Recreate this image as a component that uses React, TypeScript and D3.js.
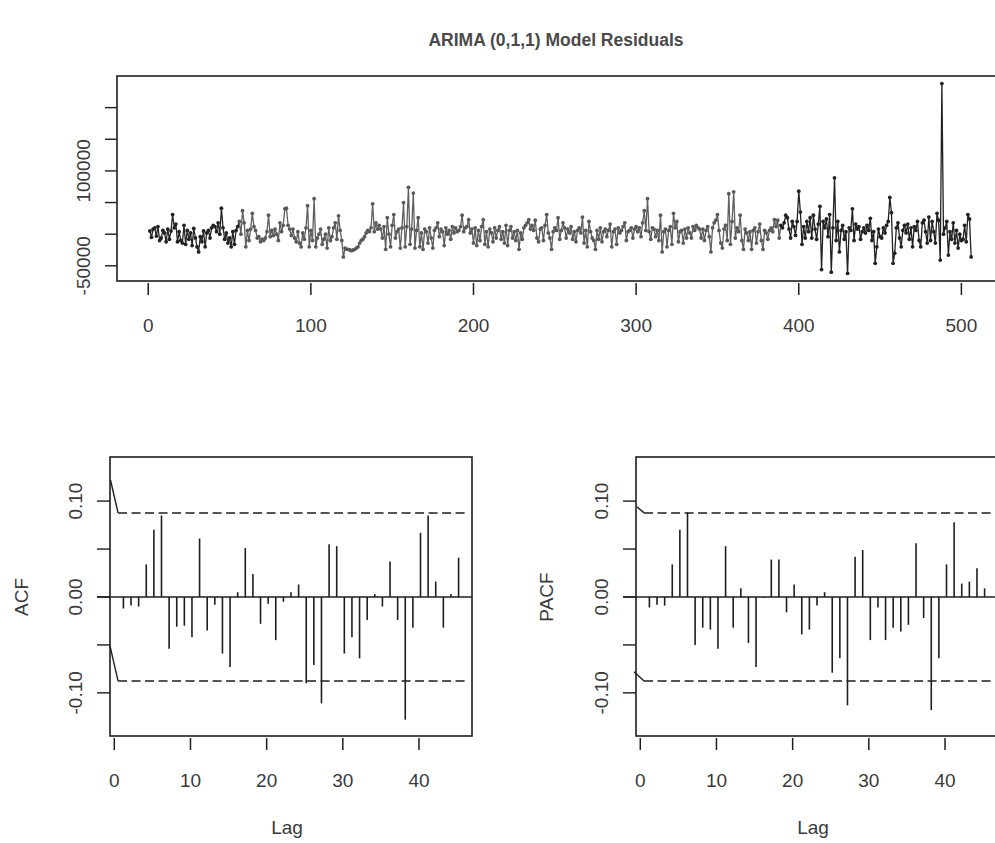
import React from "react";
import * as d3 from "d3";

// Residual series (thousands), time index 1..506
const residualsK: number[] = [
  5, -5, 8, 10, -3, 12, -10, -6, 6, 2, -12, 8, -8, 5, 31, 10, 16, -12, 4, -10,
  -14, 14, -16, 6, -8, 2, -18, 9, -6, -20, -28, -4, -12, 5, -20, 2, 6, -6, 10, 14,
  12, 4, 18, 0, 41, 10, -8, 2, -14, -6, -20, 4, -16, 6, 12, 20, 0, 37, 18, -20,
  6, -10, 8, 33, 12, 6, -6, -4, -12, -8, -10, -6, 4, 30, -4, 6, -2, 8, 0, -10,
  18, 4, 14, 40, 41, 14, 8, -2, 8, -6, -12, 4, -14, -20, 2, -8, 10, 45, -20, 6,
  -10, 56, -20, -6, 0, 8, -16, -8, 0, -22, 10, -10, -4, 10, 18, -8, 29, 6, -10, -36,
  -22, -24, -24, -25, -26, -25, -24, -22, -20, -14, -10, -8, -4, 2, 6, 4, 10, 48, 4, 18,
  8, 14, 8, -6, 12, -24, 26, 0, -20, 14, 31, -6, 4, 8, -22, 10, 50, -20, 12, 74,
  -16, 8, 65, -22, 6, 26, -20, 2, -24, 8, 4, -14, 10, -6, -22, 6, 10, 18, -4, 8,
  4, -18, 10, 0, 6, -8, 12, 2, 10, 4, 6, 12, 30, 4, 10, 12, 23, 2, 8, -14,
  10, -18, 6, -10, 12, 23, -16, 4, -20, 8, 2, -12, 10, -6, 6, 12, -8, 4, -14, 14,
  -18, 6, 12, -6, 4, -10, 6, -24, 2, -8, 10, 14, 18, 23, 8, 14, 6, 22, -6, -12,
  8, 10, -10, 14, 31, 2, -6, -24, 4, 10, 6, 26, -8, 6, 18, 10, -6, 8, 2, 12,
  -8, 4, -12, 6, 10, 2, 27, -14, 6, -20, 20, 4, -6, -10, -24, 6, -8, 10, -12, 4,
  8, -4, 6, 16, -20, 4, 8, -16, 10, 2, 6, 12, 18, -10, 4, 6, 10, -6, 8, 12,
  4, 10, -4, 18, 37, 6, 56, 4, -8, 10, 8, -4, 6, -10, 30, -28, 4, 8, -20, 6,
  12, -16, 33, 10, 20, -12, 4, 6, -14, 8, -6, 10, 2, -6, 12, 6, 14, 10, 8, -6,
  8, -10, 6, 12, -4, -28, 10, 18, 22, 31, 6, -14, -22, 8, 14, -10, 64, -16, 20, 67,
  -6, 10, 4, 30, -10, -24, 8, 2, -10, 4, -24, 6, 10, -14, 4, 16, -10, -24, 6, 2,
  -8, 6, 10, 4, 23, 12, 22, -6, 14, 10, 18, 30, 26, 8, -6, 20, 12, -2, 20, 68,
  35, -16, 12, -6, 20, 4, 26, -6, 30, 8, -8, 16, 44, -56, 20, 10, 24, -4, 31, -60,
  10, 89, -10, 20, -28, 6, 14, -8, 4, -62, 10, 6, 40, -10, 16, 8, 12, -8, 4, 10,
  2, 14, 6, 25, -10, 4, -46, -20, 8, -4, -6, 10, 2, 14, 20, 58, 34, -46, -30, 10,
  18, -6, -20, 6, 14, 2, 16, -8, 10, -20, 12, 6, 20, -10, -20, 18, 22, 4, -14, 27,
  -10, 20, 4, -14, 33, 22, -41, 238, 0, 10, 20, -33, 4, -8, 18, -14, 6, -22, 0, -10,
  -8, 14, -12, 31, 24, -36,
];

const acfValues: number[] = [
  -0.012, -0.009, -0.010, 0.034, 0.070, 0.085, -0.054, -0.031, -0.030, -0.042,
  0.061, -0.035, -0.008, -0.059, -0.073, 0.005, 0.051, 0.024, -0.028, -0.007,
  -0.045, -0.005, 0.005, 0.013, -0.090, -0.071, -0.111, 0.055, 0.053, -0.059,
  -0.042, -0.064, -0.024, 0.003, -0.010, 0.037, -0.024, -0.128, -0.032, 0.067,
  0.085, 0.016, -0.032, 0.003, 0.041,
];

const pacfValues: number[] = [
  -0.011, -0.008, -0.009, 0.034, 0.070, 0.088, -0.050, -0.032, -0.034, -0.054,
  0.053, -0.032, 0.009, -0.048, -0.073, -0.001, 0.039, 0.039, -0.016, 0.013,
  -0.039, -0.034, -0.009, 0.005, -0.079, -0.064, -0.113, 0.042, 0.049, -0.045,
  -0.011, -0.045, -0.032, -0.036, -0.029, 0.056, -0.022, -0.118, -0.064, 0.034,
  0.078, 0.014, 0.016, 0.030, 0.009,
];

const ciLimit = 0.0877;
const seriesXTicks = [0, 100, 200, 300, 400, 500];
const seriesYTicks = [-50000, 0, 50000, 100000, 150000, 200000];
const seriesYLabels = ["-50000", "", "", "100000", "", ""];
const lagTicks = [0, 10, 20, 30, 40];
const corrYTicks = [-0.1, -0.05, 0, 0.05, 0.1];
const corrYLabels = ["-0.10", "", "0.00", "", "0.10"];

const FONT = "'Liberation Sans', Arial, sans-serif";
const TXT = "#3a3a3a";
const INK = "#1e1e1e";

function CorrPanel({ values, left, label, labelX, leftStart }: { values: number[]; left: number; label: string; labelX: number; leftStart: [number, number][] }) {
  const top = 457, bottom = 736, width = 362;
  const n = values.length;
  const x = d3.scaleLinear().domain([1 - 0.04 * (n - 1), n + 0.04 * (n - 1)]).range([left, left + width]);
  const y = d3.scaleLinear().domain([-0.145, 0.146]).range([bottom, top]);
  const lags = d3.range(1, n + 1);
  return (
    <g>
      <rect x={left} y={top} width={width} height={bottom - top} fill="none" stroke={INK} strokeWidth={1.6} />
      <line x1={left - 13} x2={left + width} y1={y(0)} y2={y(0)} stroke={INK} strokeWidth={1.4} />
      {lags.map((lag, i) => (
        <line key={lag} x1={x(lag)} x2={x(lag)} y1={y(0)} y2={y(values[i])} stroke={INK} strokeWidth={1.6} />
      ))}
      {[1, -1].map((s, k) => (
        <g key={s}>
          <line x1={left + leftStart[k][0]} y1={y(leftStart[k][1])} x2={x(0.3)} y2={y(s * ciLimit)} stroke={INK} strokeWidth={1.4} />
          <line x1={x(0.3)} x2={x(45.8)} y1={y(s * ciLimit)} y2={y(s * ciLimit)} stroke={INK} strokeWidth={1.5} strokeDasharray="9,4.5" />
        </g>
      ))}
      {corrYTicks.map((t, i) => (
        <g key={t}>
          <line x1={left - 13} x2={left} y1={y(t)} y2={y(t)} stroke={INK} strokeWidth={1.4} />
          {corrYLabels[i] && (
            <text transform={`translate(${left - 28},${y(t)}) rotate(-90)`} textAnchor="middle" fontSize={19} fill={TXT} fontFamily={FONT}>
              {corrYLabels[i]}
            </text>
          )}
        </g>
      ))}
      {lagTicks.map((t) => (
        <g key={t}>
          <line x1={x(t) - 1.5} x2={x(t) - 1.5} y1={bottom + 2} y2={bottom + 14} stroke={INK} strokeWidth={1.5} />
          <text x={x(t) - 1.5} y={bottom + 51} textAnchor="middle" fontSize={19} fill={TXT} fontFamily={FONT}>{t}</text>
        </g>
      ))}
      <text x={left + width / 2 - 4} y={834} textAnchor="middle" fontSize={19} fill={TXT} fontFamily={FONT}>Lag</text>
      <text transform={`translate(${labelX},597) rotate(-90)`} textAnchor="middle" fontSize={19} fill={TXT} fontFamily={FONT}>{label}</text>
    </g>
  );
}

export default function App() {
  const n = residualsK.length;
  const data = residualsK.map((v, i) => ({ t: i + 1, v: v * 1000 }));
  const x = d3.scaleLinear().domain([1 - 0.04 * (n - 1), n + 0.04 * (n - 1)]).range([117, 1004]);
  const y = d3.scaleLinear().domain([-74000, 250000]).range([281, 76]);
  const line = d3.line<{ t: number; v: number }>().x((d) => x(d.t)).y((d) => y(d.v));
  const segColor = (t: number) => (t < 56 || t > 388 ? "#222" : "#5a5a5a");
  const segments: { t: number; v: number }[][] = [
    data.filter((d) => d.t <= 56),
    data.filter((d) => d.t >= 56 && d.t <= 389),
    data.filter((d) => d.t >= 389),
  ];
  const segCols = ["#262626", "#606060", "#222"];

  return (
    <svg width={995} height={843} style={{ position: "absolute", left: 0, top: 0, background: "#fff" }}>
      <text x={556} y={46} textAnchor="middle" fontSize={17.5} fontWeight="bold" fill="#4a4a4a" fontFamily={FONT}>
        ARIMA (0,1,1) Model Residuals
      </text>
      <rect x={117} y={76} width={900} height={205} fill="none" stroke={INK} strokeWidth={1.6} />
      {segments.map((s, i) => (
        <path key={i} d={line(s) || ""} fill="none" stroke={segCols[i]} strokeWidth={1.3} />
      ))}
      {data.map((d) => (
        <circle key={d.t} cx={x(d.t)} cy={y(d.v)} r={1.9} fill={segColor(d.t)} />
      ))}
      {seriesYTicks.map((t, i) => (
        <g key={t}>
          <line x1={105} x2={117} y1={y(t)} y2={y(t)} stroke={INK} strokeWidth={1.4} />
          {seriesYLabels[i] && (
            <text transform={`translate(${90},${y(t)}) rotate(-90)`} textAnchor="middle" fontSize={19} fill={TXT} fontFamily={FONT}>
              {seriesYLabels[i]}
            </text>
          )}
        </g>
      ))}
      {seriesXTicks.map((t) => (
        <g key={t}>
          <line x1={x(t)} x2={x(t)} y1={283} y2={295} stroke={INK} strokeWidth={1.5} />
          <text x={x(t)} y={332} textAnchor="middle" fontSize={19} fill={TXT} fontFamily={FONT}>{t}</text>
        </g>
      ))}
      <CorrPanel values={acfValues} left={110} label="ACF" labelX={28} leftStart={[[0.5, 0.122], [0, -0.051]]} />
      <CorrPanel values={pacfValues} left={636} label="PACF" labelX={553} leftStart={[[1, 0.094], [-2, -0.078]]} />
    </svg>
  );
}
